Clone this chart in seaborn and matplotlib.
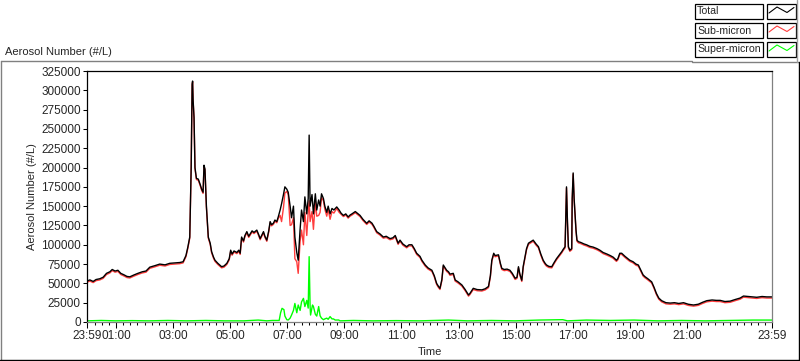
import matplotlib

matplotlib.use("Agg")
import matplotlib.pyplot as plt
import numpy as np
import pandas as pd
import seaborn as sns
from matplotlib.lines import Line2D
from matplotlib.patches import Rectangle

# minutes elapsed since 23:59 of the previous day
time_min = [
    0, 6, 13, 19, 27, 34, 41, 48, 53, 59, 65, 71, 78, 84, 90, 99, 107, 116, 124, 132,
    143, 153, 164, 174, 185, 195, 202, 208, 212, 216, 219, 221, 222, 223, 225, 227, 230, 234, 238, 241,
    244, 246, 248, 251, 255, 259, 262, 266, 269, 275, 283, 288, 294, 299, 302, 305, 309, 315, 319, 322,
    325, 329, 332, 336, 340, 343, 347, 351, 357, 361, 364, 367, 371, 374, 378, 382, 385, 388, 392, 395,
    399, 402, 406, 409, 413, 416, 420, 423, 427, 430, 434, 437, 441, 444, 448, 451, 455, 458, 462, 465,
    467, 469, 473, 476, 480, 483, 487, 490, 493, 497, 500, 504, 507, 511, 515, 519, 525, 530, 534, 539,
    544, 549, 553, 557, 564, 568, 574, 580, 588, 593, 599, 603, 609, 616, 623, 629, 637, 643, 648, 654,
    658, 664, 672, 677, 683, 688, 693, 700, 704, 711, 717, 725, 730, 735, 739, 742, 746, 749, 753, 756,
    760, 763, 770, 774, 780, 788, 795, 802, 805, 812, 820, 830, 837, 844, 848, 851, 855, 858, 865, 869,
    872, 877, 883, 889, 894, 900, 904, 907, 910, 914, 917, 921, 924, 928, 933, 938, 944, 949, 954, 959,
    963, 966, 971, 977, 982, 987, 992, 998, 1001, 1005, 1007, 1008, 1010, 1012, 1015, 1019, 1020, 1022, 1024, 1026,
    1028, 1030, 1033, 1038, 1045, 1050, 1057, 1064, 1072, 1078, 1085, 1093, 1100, 1106, 1113, 1116, 1120, 1124, 1131, 1137,
    1141, 1148, 1154, 1159, 1165, 1169, 1173, 1179, 1187, 1192, 1197, 1202, 1208, 1217, 1226, 1235, 1244, 1254, 1264, 1275,
    1285, 1294, 1303, 1314, 1323, 1331, 1341, 1352, 1362, 1373, 1380, 1390, 1398, 1408, 1419, 1429, 1440,
]

total = [
    53000, 54500, 52500, 55000, 56000, 58000, 63000, 65000, 68000, 66000, 67000, 63000, 61000, 59000, 58500, 61000, 63000, 65000, 66000, 71000,
    73000, 75000, 74000, 76000, 76500, 77000, 78000, 86000, 97000, 110000, 200000, 308000, 312000, 288000, 265000, 200000, 186000, 185000, 178000, 172000,
    168000, 203000, 198000, 150000, 110000, 102000, 91000, 84000, 80000, 76000, 71600, 72500, 76000, 82000, 93000, 88000, 92000, 90000, 93000, 89000,
    110000, 105000, 112000, 117000, 111000, 114000, 118000, 116000, 119000, 113000, 108000, 112000, 117000, 111000, 106000, 118000, 130000, 126000, 128000, 132000,
    130000, 136000, 145000, 153000, 165000, 175000, 172000, 168000, 150000, 135000, 150000, 110000, 90000, 80000, 120000, 145000, 130000, 162000, 140000, 160000,
    242000, 150000, 165000, 140000, 166000, 145000, 158000, 150000, 166000, 160000, 150000, 142000, 150000, 140000, 147000, 145000, 149000, 145000, 141000, 138000,
    140000, 136000, 138500, 140000, 143000, 141000, 138000, 133000, 127800, 131000, 128000, 124000, 117000, 114000, 110000, 111000, 108000, 109000, 112000, 102000,
    106000, 101000, 97500, 100000, 100000, 95000, 89000, 85000, 80000, 73800, 70000, 67000, 60000, 50000, 46000, 43600, 55000, 73800, 70000, 67000,
    65000, 62000, 63000, 54400, 52000, 48000, 42000, 35000, 37000, 43600, 42000, 41600, 43000, 46000, 60000, 80000, 89000, 86000, 87000, 76000,
    69500, 68000, 68500, 67000, 63000, 56600, 58000, 71600, 62000, 54000, 72000, 85000, 95000, 102000, 104000, 106000, 101000, 97500, 88000, 80000,
    76000, 73800, 72000, 71600, 77000, 82000, 86000, 91000, 94000, 97500, 150000, 175000, 130000, 97500, 93000, 95000, 160000, 193000, 160000, 140000,
    119000, 106000, 104000, 103000, 101000, 100000, 98000, 97000, 95000, 93000, 90000, 88000, 86000, 84000, 80000, 82000, 89000, 89000, 85000, 82000,
    80000, 78000, 75000, 73800, 66000, 61000, 58700, 56000, 52000, 45000, 37000, 31000, 27600, 25000, 24500, 25000, 24000, 25000, 23000, 22000,
    23000, 25500, 27600, 28500, 28000, 28000, 26500, 27000, 29000, 31000, 33600, 33000, 32500, 32000, 33000, 32500, 32500,
]

sub_micron = [
    51500, 53000, 51000, 53500, 54500, 56500, 61500, 63500, 66500, 64500, 65500, 61500, 59500, 57500, 57000, 59500, 61500, 63500, 64500, 69500,
    71500, 73500, 72500, 74500, 75000, 75500, 76500, 84500, 95500, 108500, 198500, 306500, 310500, 286500, 263500, 198500, 184500, 183500, 176500, 170500,
    166500, 201500, 196500, 148500, 108500, 100500, 89500, 82500, 78500, 74500, 70100, 71000, 74500, 80500, 91500, 86500, 90500, 88500, 91500, 87500,
    108500, 103500, 110500, 115500, 109500, 112500, 116500, 114500, 117500, 111500, 106500, 110500, 115500, 109500, 104500, 116500, 128500, 124500, 126500, 130500,
    128500, 134000, 138000, 130000, 148000, 167000, 169000, 165000, 125000, 126000, 135000, 82000, 78000, 63000, 105000, 119000, 100000, 142000, 112000, 142000,
    157000, 130000, 143000, 120000, 156000, 137000, 138000, 142000, 161000, 157000, 146000, 137000, 146000, 133000, 143000, 141000, 147000, 142000, 139500, 136500,
    138500, 134500, 137000, 138500, 141500, 139500, 136500, 131500, 126300, 129500, 126500, 122500, 115500, 112500, 108500, 109500, 106500, 107500, 110500, 100500,
    104500, 99500, 96000, 98500, 98500, 93500, 87500, 83500, 78500, 72300, 68500, 65500, 58500, 48500, 44500, 42100, 53500, 72300, 68500, 65500,
    63500, 60500, 61500, 52900, 50500, 46500, 40500, 33500, 35500, 42100, 40500, 40100, 41500, 44500, 58500, 78500, 87500, 84500, 85500, 74500,
    68000, 66500, 67000, 65500, 61500, 55100, 56500, 70100, 60500, 52500, 70500, 83500, 93500, 100500, 102500, 104500, 99500, 96000, 86500, 78500,
    74500, 72300, 70500, 70100, 75500, 80500, 84500, 89500, 92500, 96000, 148500, 173500, 128500, 96000, 91500, 93500, 158500, 191500, 158500, 138500,
    117500, 104500, 102500, 101500, 99500, 98500, 96500, 95500, 93500, 91500, 88500, 86500, 84500, 82500, 78500, 80500, 87500, 87500, 83500, 80500,
    78500, 76500, 73500, 72300, 64500, 59500, 57200, 54500, 50500, 43500, 35500, 29500, 26100, 23500, 23000, 23500, 22500, 23500, 21500, 20500,
    21500, 24000, 26100, 27000, 26500, 26500, 25000, 25500, 27500, 29500, 32100, 31500, 31000, 30500, 31500, 31000, 31000,
]

super_time = [
    0, 30, 60, 95, 130, 170, 210, 250, 290, 330, 360, 378, 390, 404, 407, 410, 414, 416, 420, 423,
    427, 430, 434, 437, 441, 444, 448, 451, 455, 458, 462, 465, 467, 469, 470, 474, 476, 480, 483, 487,
    490, 493, 497, 500, 504, 507, 511, 515, 518, 522, 529, 532, 560, 600, 650, 700, 760, 800, 850, 900,
    950, 1000, 1010, 1050, 1100, 1150, 1200, 1250, 1300, 1350, 1400, 1440,
]

super_micron = [
    1500, 2000, 1500, 1800, 1500, 2000, 1500, 2000, 1500, 1500, 2500, 1500, 2000, 2000, 12000, 17700, 16000, 7700, 3000, 2600,
    5000, 9000, 15000, 24000, 12000, 22000, 15000, 26000, 30600, 20000, 28000, 18000, 84600, 20000, 9000, 22000, 20000, 10000, 7700, 20000,
    8000, 5000, 3000, 4000, 5000, 3500, 7000, 4000, 4000, 2500, 2600, 1500, 2000, 1500, 1800, 1500, 2500, 1500, 2000, 1500,
    2500, 3000, 1500, 2500, 2000, 2500, 1500, 2000, 1500, 2000, 2500, 2500,
]

tick_minutes = [0, 61, 181, 301, 421, 541, 661, 781, 901, 1021, 1141, 1261, 1440]
tick_labels = ["23:59", "01:00", "03:00", "05:00", "07:00", "09:00", "11:00",
               "13:00", "15:00", "17:00", "19:00", "21:00", "23:59"]
y_ticks = np.arange(0, 325001, 25000)

series_names = ["Total", "Sub-micron", "Super-micron"]
series_colors = ["#000000", "#ff3c3c", "#00ff00"]

sns.set_theme(style="white")
plt.rcParams["font.family"] = ["Liberation Sans", "DejaVu Sans"]
plt.rcParams["font.size"] = 8

W, H = 800, 361


def fx(x):
    return x / W


def fy(y):
    return 1 - y / H


fig = plt.figure(figsize=(8, 3.61), dpi=100, facecolor="white")
ax = fig.add_axes([fx(87), fy(322), fx(772) - fx(87), fy(71) - fy(322)])
ax.set_facecolor("white")

df_total = pd.DataFrame({"Time": time_min, "Value": total})
df_sub = pd.DataFrame({"Time": time_min, "Value": sub_micron})
df_super = pd.DataFrame({"Time": super_time, "Value": super_micron})

for df, col in [(df_super, series_colors[2]), (df_sub, series_colors[1]), (df_total, series_colors[0])]:
    sns.lineplot(data=df, x="Time", y="Value", color=col, lw=1.0, ax=ax,
                 estimator=None, sort=False)

ax.set_xlim(0, 1440)
ax.set_ylim(0, 325000)
ax.set_yticks(y_ticks)
ax.set_yticklabels([str(v) for v in y_ticks])
ax.set_xticks(tick_minutes)
ax.set_xticklabels(tick_labels)
minor = [m for m in range(1, 1440, 15) if m not in tick_minutes]
ax.set_xticks(minor, minor=True)

ax.tick_params(axis="y", which="major", direction="out", length=3, width=0.75,
               color="black", pad=1.5, labelsize=8.5, left=True)
ax.tick_params(axis="x", which="major", direction="out", length=4.5, width=0.75,
               color="black", pad=1.5, labelsize=8.5, bottom=True)
ax.tick_params(axis="x", which="minor", direction="out", length=2.2, width=0.75,
               color="black", bottom=True)

for side, c in [("left", "black"), ("top", "black"), ("right", "#808080"), ("bottom", "#808080")]:
    ax.spines[side].set_color(c)
    ax.spines[side].set_linewidth(0.9)

ax.set_xlabel("Time", va="center", fontsize=8)
ax.xaxis.set_label_coords(0.5, (322 - 352) / 251)
ax.set_ylabel("Aerosol Number (#/L)", va="center", fontsize=8)
ax.yaxis.set_label_coords((32 - 87) / 685, 0.5)

fig.text(fx(5), fy(52), "Aerosol Number (#/L)", ha="left", va="center", fontsize=8)

# outer sunken frame
frame_lines = [
    ((1, 61), (1, 361), "#808080"),
    ((1, 61), (692, 61), "#808080"),
    ((692, 62), (800, 62), "#808080"),
    ((797, 0), (797, 62), "#a0a0a0"),
    ((799, 62), (799, 361), "#000000"),
    ((0, 360), (800, 360), "#000000"),
]
for (x0, y0), (x1, y1), c in frame_lines:
    fig.add_artist(Line2D([fx(x0), fx(x1)], [fy(y0), fy(y1)], color=c, lw=1.0,
                          transform=fig.transFigure))

# legend boxes
for i, (name, col) in enumerate(zip(series_names, series_colors)):
    top = 4 + 19 * i
    bot = top + 15
    fig.add_artist(Rectangle((fx(695), fy(bot)), fx(763) - fx(695), fy(top) - fy(bot),
                             transform=fig.transFigure, facecolor="white",
                             edgecolor="black", lw=0.9))
    fig.add_artist(Rectangle((fx(767), fy(bot)), fx(796) - fx(767), fy(top) - fy(bot),
                             transform=fig.transFigure, facecolor="white",
                             edgecolor="black", lw=0.9))
    fig.text(fx(697), fy((top + bot) / 2), name, ha="left", va="center", fontsize=7.6)
    sx = [769, 777, 787, 794]
    sy = [top + 9, top + 3, top + 8.5, top + 3.5]
    fig.add_artist(Line2D([fx(v) for v in sx], [fy(v) for v in sy], color=col, lw=0.8,
                          transform=fig.transFigure))

fig.savefig("out.png", dpi=100, facecolor="white")
